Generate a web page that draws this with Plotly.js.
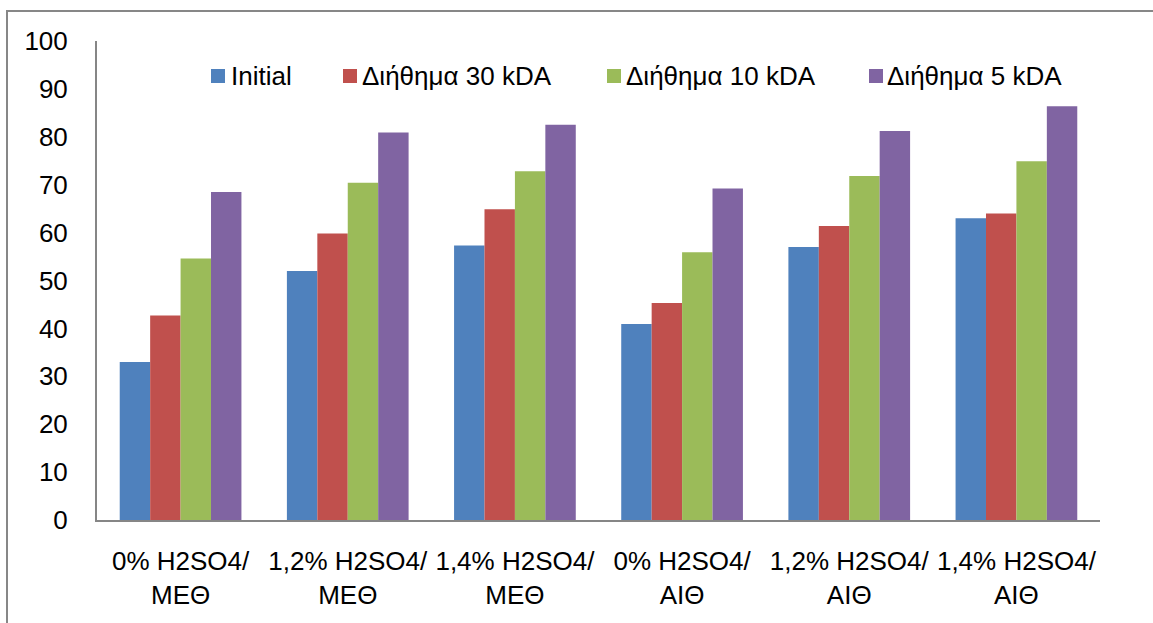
<!DOCTYPE html>
<html>
<head>
<meta charset="utf-8">
<script src="https://cdn.plot.ly/plotly-3.0.1.min.js"></script>
<style>
  html, body { margin: 0; padding: 0; background: #fff; }
  #chart { width: 1153px; height: 623px; }
</style>
</head>
<body>
<div id="chart"></div>
<script>
// ---- data ----
const categories = [
  "0% H2SO4/<br>ΜΕΘ",
  "1,2% H2SO4/<br>ΜΕΘ",
  "1,4% H2SO4/<br>ΜΕΘ",
  "0% H2SO4/<br>ΑΙΘ",
  "1,2% H2SO4/<br>ΑΙΘ",
  "1,4% H2SO4/<br>ΑΙΘ"
];
const seriesNames = ["Initial", "Διήθημα 30 kDA", "Διήθημα 10 kDA", "Διήθημα 5 kDA"];
const initialVals = [33.0, 52.0, 57.3, 40.9, 57.0, 63.0];
const d30Vals     = [42.7, 59.8, 64.9, 45.3, 61.4, 64.0];
const d10Vals     = [54.6, 70.4, 72.8, 55.9, 71.8, 74.9];
const d5Vals      = [68.5, 80.9, 82.5, 69.2, 81.2, 86.4];
const yTicks = [0, 10, 20, 30, 40, 50, 60, 70, 80, 90, 100];

// ---- styles ----
const colors = ["#4F81BD", "#C0504D", "#9BBB59", "#8064A2"];
const FONT = "Liberation Sans, Arial, sans-serif";
const FS = 26;
const W = 1153, H = 623;
const M = { l: 97, r: 53, t: 41, b: 103 };
const plotW = W - M.l - M.r, plotH = H - M.t - M.b;
const px2x = p => (p - M.l) / plotW;
const py2y = p => (H - M.b - p) / plotH;

const allVals = [initialVals, d30Vals, d10Vals, d5Vals];
const traces = allVals.map((v, i) => ({
  type: "bar",
  name: seriesNames[i],
  x: categories,
  y: v,
  marker: { color: colors[i], line: { width: 0 } },
  showlegend: false
}));

// custom legend placed like the original
const legSquareX = [211, 343, 607, 869];
const legTextX = [229, 360, 624, 885];
const shapes = [];
const annotations = [];
seriesNames.forEach((n, i) => {
  shapes.push({
    type: "rect", xref: "paper", yref: "paper",
    x0: px2x(legSquareX[i]), x1: px2x(legSquareX[i] + 14),
    y0: py2y(83), y1: py2y(69),
    fillcolor: colors[i], line: { width: 0 }
  });
  annotations.push({
    xref: "paper", yref: "paper",
    x: px2x(legTextX[i]), y: py2y(76.5),
    xanchor: "left", yanchor: "middle",
    text: n, showarrow: false,
    font: { family: FONT, size: FS, color: "#000" }
  });
});
// outer chart-area frame (clipped at right/bottom like the original)
shapes.push({
  type: "rect", xref: "paper", yref: "paper",
  x0: px2x(7), x1: px2x(1170), y0: py2y(640), y1: py2y(11),
  line: { color: "#878787", width: 2 }, fillcolor: "rgba(0,0,0,0)"
});

const layout = {
  width: W, height: H,
  margin: M,
  paper_bgcolor: "#fff",
  plot_bgcolor: "#fff",
  barmode: "group",
  bargap: 0.272,
  bargroupgap: 0,
  font: { family: FONT, size: FS, color: "#000" },
  showlegend: false,
  xaxis: {
    type: "category",
    showline: true, linecolor: "#868686", linewidth: 2,
    showgrid: false, zeroline: false, ticks: "",
    ticklabelstandoff: 17,
    tickfont: { family: FONT, size: FS, color: "#000" }
  },
  yaxis: {
    range: [0, 100],
    tickvals: yTicks,
    ticktext: yTicks.map(String),
    showline: true, linecolor: "#868686", linewidth: 2,
    showgrid: false, zeroline: false, ticks: "",
    ticklabelstandoff: 22,
    tickfont: { family: FONT, size: FS, color: "#000" }
  },
  shapes: shapes,
  annotations: annotations
};

Plotly.newPlot("chart", traces, layout, { staticPlot: true, displayModeBar: false });
</script>
</body>
</html>
